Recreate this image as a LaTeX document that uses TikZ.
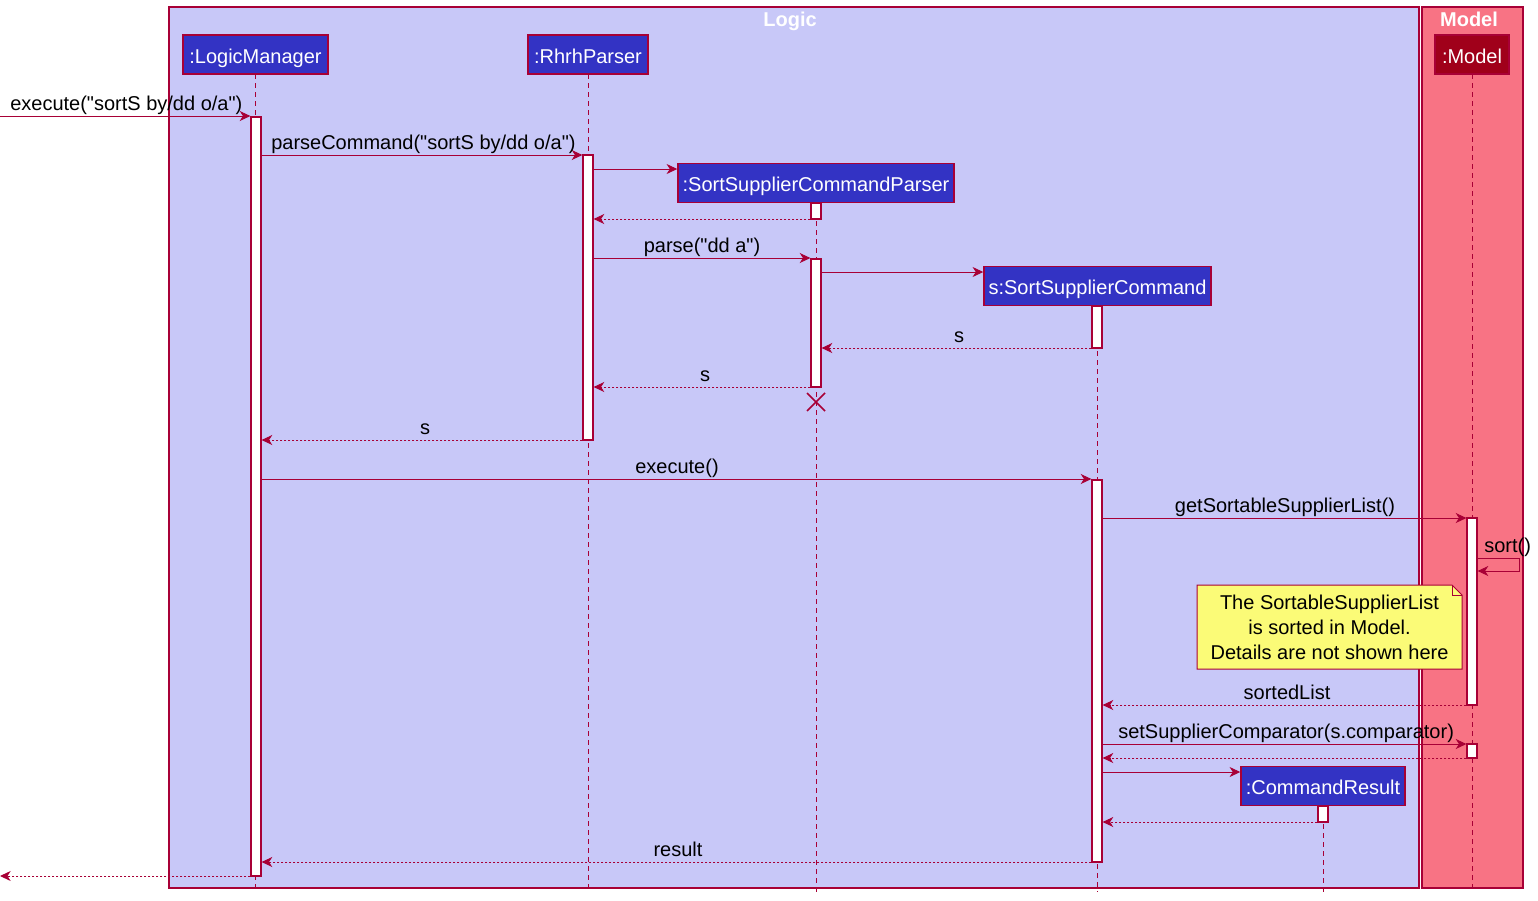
\documentclass[tikz,border=0pt]{standalone}
\usepackage{fontspec}
\setmainfont{Liberation Sans}[Ligatures=TeXOff]
\usetikzlibrary{arrows.meta}
\definecolor{crim}{HTML}{A80036}
\definecolor{lav}{HTML}{C8C8F8}
\definecolor{modelbg}{HTML}{F87384}
\definecolor{partblue}{HTML}{3333C4}
\definecolor{modelpart}{HTML}{A0001A}
\definecolor{noteyel}{HTML}{FBFB77}
\newcommand{\fs}{\fontsize{15}{18.75}\selectfont}
\newcommand{\qq}{\symbol{34}}
\tikzset{
  grp/.style={draw=crim, line width=0.9pt},
  part/.style={rectangle, draw=crim, fill=partblue, text=white, font=\fs, inner sep=0pt, line width=1.1pt, minimum height={39*0.75pt}, text height=13pt, text depth=0.2pt},
  act/.style={rectangle, draw=crim, fill=white, line width=0.9pt, minimum width={10*0.75pt}, inner sep=0pt},
  life/.style={draw=crim, line width=0.75pt, dash pattern=on 3.75pt off 3pt},
  msg/.style={draw=crim, line width=0.75pt, -{Stealth[length=8pt,width=7.5pt,inset=2.4pt]}},
  ret/.style={msg, dash pattern=on 1.5pt off 1.5pt},
  lbl/.style={font=\fs, text=black, inner sep=0pt},
  ttl/.style={font=\fs\bfseries, text=white, inner sep=0pt}
}
\begin{document}
\begin{tikzpicture}[x=0.75pt,y=-0.75pt]
\useasboundingbox (0,0) rectangle (1538,900);
% group boxes
\draw[grp, fill=lav] (169,7) rectangle (1419,888);
\draw[grp, fill=modelbg] (1422,7) rectangle (1523,888);
\node[ttl, anchor=base] (tlogic) at (790,26.5) {Logic};
\node[ttl, anchor=base] (tmodel) at (1469,26.5) {Model};
% lifelines
\coordinate (eLM) at (255.5,892);
\coordinate (eRP) at (588,892);
\coordinate (eP) at (816,892);
\coordinate (eS) at (1097,892);
\coordinate (eCR) at (1323,892);
\coordinate (eM) at (1472,892);
\draw[life] (255.5,74) -- (eLM);
\draw[life] (588,74) -- (eRP);
\draw[life] (816,203) -- (eP);
\draw[life] (1097,306) -- (eS);
\draw[life] (1323,806) -- (eCR);
\draw[life] (1472,74) -- (eM);
% activations
\node[act, minimum height={759*0.75pt}] (aLM) at (256,496.5) {};
\node[act, minimum height={285*0.75pt}] (aRP) at (588,297.5) {};
\node[act, minimum height={16*0.75pt}] (aP1) at (816,211) {};
\node[act, minimum height={128*0.75pt}] (aP2) at (816,323) {};
\node[act, minimum height={42*0.75pt}] (aS1) at (1097,327) {};
\node[act, minimum height={382*0.75pt}] (aS2) at (1097,671) {};
\node[act, minimum height={187*0.75pt}] (aM1) at (1472,611.5) {};
\node[act, minimum height={14*0.75pt}] (aM2) at (1472,751) {};
\node[act, minimum height={16*0.75pt}] (aCR) at (1323,814) {};
% participants
\node[part, minimum width={145*0.75pt}] (pLM) at (255.5,54.5) {:LogicManager};
\node[part, minimum width={120*0.75pt}] (pRP) at (588,54.5) {:RhrhParser};
\node[part, minimum width={276*0.75pt}] (pP) at (816,183) {:SortSupplierCommandParser};
\node[part, minimum width={227*0.75pt}] (pS) at (1097.5,286) {s:SortSupplierCommand};
\node[part, minimum width={164*0.75pt}] (pCR) at (1323,786) {:CommandResult};
\node[part, fill=modelpart, minimum width={74*0.75pt}] (pM) at (1472,54.5) {:Model};
% messages
\coordinate (start) at (0,116);
\draw[msg] (start) -- (aLM.west |- start);
\node[lbl, anchor=base west] (l1) at (10,110) {execute(\qq sortS by/dd o/a\qq)};
\draw[msg] (aLM.east |- 0,155) -- (aRP.west |- 0,155);
\node[lbl, anchor=base west] (l2) at (271,149) {parseCommand(\qq sortS by/dd o/a\qq)};
\draw[msg] (aRP.east |- 0,169) -- (pP.west |- 0,169);
\draw[ret] (aP1.west |- 0,219) -- (aRP.east |- 0,219);
\draw[msg] (aRP.east |- 0,258) -- (aP2.west |- 0,258);
\node[lbl, anchor=base] (l3) at (702,252) {parse(\qq dd a\qq)};
\draw[msg] (aP2.east |- 0,272) -- (pS.west |- 0,272);
\draw[ret] (aS1.west |- 0,348) -- (aP2.east |- 0,348);
\node[lbl, anchor=base] (l4) at (959,342) {s};
\draw[ret] (aP2.west |- 0,387) -- (aRP.east |- 0,387);
\node[lbl, anchor=base] (l5) at (705,381) {s};
\draw[crim, line width=1.2pt] (807,393) -- (825,411) (807,411) -- (825,393);
\draw[ret] (aRP.west |- 0,440) -- (aLM.east |- 0,440);
\node[lbl, anchor=base] (l6) at (425,434) {s};
\draw[msg] (aLM.east |- 0,479) -- (aS2.west |- 0,479);
\node[lbl, anchor=base] (l7) at (677,473) {execute()};
\draw[msg] (aS2.east |- 0,518) -- (aM1.west |- 0,518);
\node[lbl, anchor=base] (l8) at (1285,512) {getSortableSupplierList()};
\coordinate (sc1) at (1519,558);
\coordinate (sc2) at (1519,571);
\draw[msg] (aM1.east |- sc1) -- (sc1) -- (sc2) -- (aM1.east |- sc2);
\node[lbl, anchor=base west] (l9) at (1484,552) {sort()};
% note
\draw[crim, line width=0.75pt, fill=noteyel] (1197,585) -- (1452,585) -- (1462,595) -- (1462,669) -- (1197,669) -- cycle;
\draw[crim, line width=0.75pt] (1452,585) -- (1452,595) -- (1462,595);
\node[lbl, align=center] (note) at (1329.5,627) {The SortableSupplierList\\is sorted in Model.\\Details are not shown here};
\draw[ret] (aM1.west |- 0,705) -- (aS2.east |- 0,705);
\node[lbl, anchor=base] (l10) at (1287,699) {sortedList};
\draw[msg] (aS2.east |- 0,744) -- (aM2.west |- 0,744);
\node[lbl, anchor=base west] (l11) at (1118,738) {setSupplierComparator(s.comparator)};
\draw[ret] (aM2.west |- 0,758) -- (aS2.east |- 0,758);
\draw[msg] (aS2.east |- 0,772) -- (pCR.west |- 0,772);
\draw[ret] (aCR.west |- 0,822) -- (aS2.east |- 0,822);
\draw[ret] (aS2.west |- 0,862) -- (aLM.east |- 0,862);
\node[lbl, anchor=base] (l12) at (678,856) {result};
\coordinate (endp) at (0,876);
\draw[ret] (aLM.west |- endp) -- (endp);
\end{tikzpicture}
\end{document}
